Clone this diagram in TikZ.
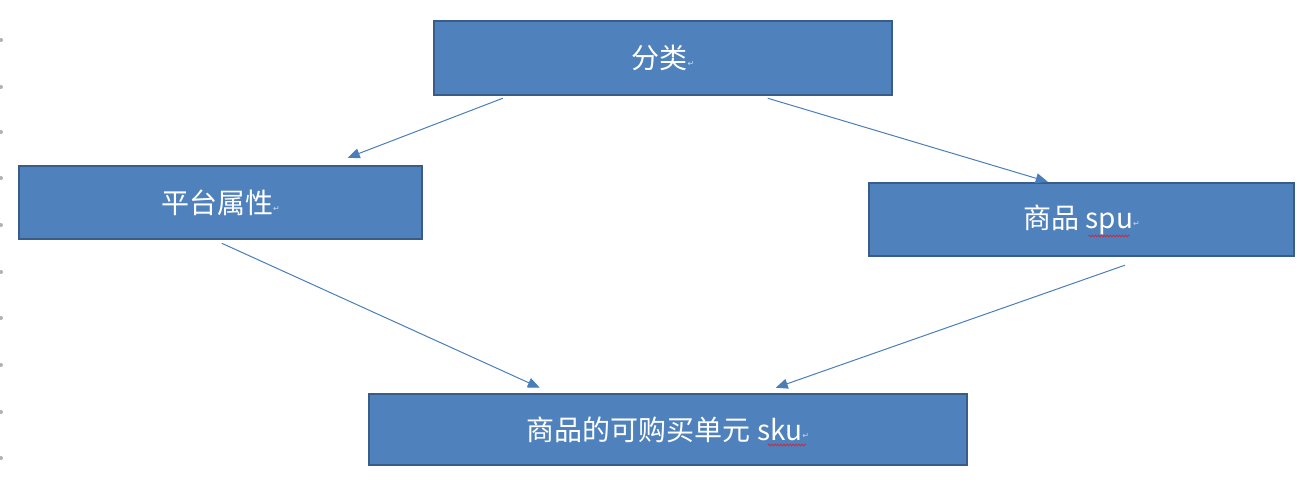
\documentclass[tikz,border=0pt]{standalone}
\usepackage{fontspec}
\setmainfont{Noto Sans CJK SC}
\newfontfamily\dejavu{DejaVu Sans}
\usetikzlibrary{arrows.meta,decorations.pathmorphing}
\definecolor{boxfill}{HTML}{4F81BD}
\definecolor{boxline}{HTML}{385D8A}
\definecolor{arrowc}{HTML}{4A7EBB}
\definecolor{wavered}{HTML}{C0304A}
\newcommand\pmark{{\dejavu\fontsize{8}{8}\selectfont\textcolor{white!70!boxfill}{\raisebox{2pt}{↵}}}}
\tikzset{
  box/.style={draw=boxline, line width=2.5pt, fill=boxfill, text=white,
    font=\fontsize{28}{32}\selectfont, inner sep=0pt, anchor=center},
  conn/.style={draw=arrowc, line width=1pt, -{Triangle[length=12pt,width=10pt]}},
  margdot/.style={circle, fill=gray!60, inner sep=0pt, minimum size=4pt},
  redwave/.style={draw=wavered, line width=0.8pt, decorate,
    decoration={snake, segment length=3pt, amplitude=0.9pt}}
}
\begin{document}
\begin{tikzpicture}[x=1pt,y=-1pt]
\useasboundingbox (0,0) rectangle (1313,488);
% margin marks
\foreach \yy [count=\i] in {40,87,132,178,225,272,318,365,412,458}
  \node[margdot] (d\i) at (1,\yy) {};
% boxes
\node[box, minimum width=458pt, minimum height=74pt] (fenlei) at (663,58) {分类\pmark};
\node[box, minimum width=403pt, minimum height=73pt] (pingtai) at (220.5,202.5) {平台属性\pmark};
\node[box, minimum width=425pt, minimum height=73pt] (spu) at (1081.5,219.5) {商品 spu\pmark};
\node[box, minimum width=598pt, minimum height=71pt] (sku) at (668,429.5) {商品的可购买单元 sku\pmark};
% spelling marks
\draw[redwave] ([shift={(7,16.5)}]spu.center) -- ([shift={(48,16.5)}]spu.center);
\draw[redwave] ([shift={(100,15.5)}]sku.center) -- ([shift={(138,15.5)}]sku.center);
% connectors
\draw[conn] ([shift={(70,2)}]fenlei.south west) -- ([shift={(330,-7)}]pingtai.north west);
\draw[conn] ([shift={(335,2)}]fenlei.south west) -- ([shift={(180,0)}]spu.north west);
\draw[conn] ([shift={(204,3)}]pingtai.south west) -- ([shift={(172,-5)}]sku.north west);
\draw[conn] ([shift={(257,8)}]spu.south west) -- ([shift={(408,-5)}]sku.north west);
\end{tikzpicture}
\end{document}
